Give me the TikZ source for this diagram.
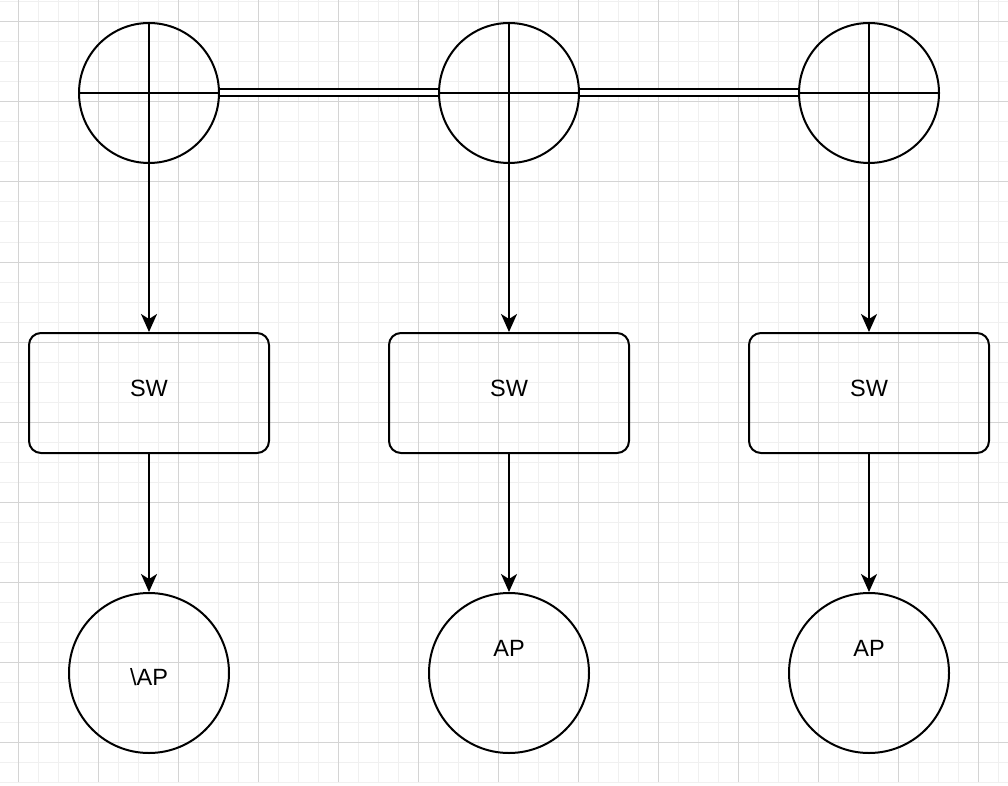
\documentclass[tikz,border=0pt]{standalone}
\usepackage{fontspec}
\setmainfont{Liberation Sans}
\usetikzlibrary{arrows.meta}

\begin{document}
\begin{tikzpicture}[x=1pt,y=-1pt,line width=2pt,
    >={Stealth[length=18pt,width=16pt,inset=5pt]},
    font=\fontsize{23.5}{27}\selectfont]
    \tikzstyle{minor}=[draw=black!6,line width=1pt]
    \tikzstyle{major}=[draw=black!17,line width=1pt]
    \tikzstyle{hub}=[circle,draw,minimum size=140pt,inner sep=0pt]
    \tikzstyle{switch}=[rectangle,draw,rounded corners=12pt,minimum width=240pt,minimum height=120pt]
    \tikzstyle{ap}=[circle,draw,minimum size=160pt,inner sep=0pt]

    \useasboundingbox (0,0) rectangle (1008,786);
    \fill[white] (0,0) rectangle (1008,786);

    % background grid
    \foreach \x in {18,38,...,1008}
    \draw[minor] (\x,0) -- (\x,782);
    \foreach \y in {2,22,...,782}
    \draw[minor] (0,\y) -- (1008,\y);
    \foreach \x in {18,98,...,1008}
    \draw[major] (\x,0) -- (\x,782);
    \foreach \y in {22,102,...,782}
    \draw[major] (0,\y) -- (1008,\y);

    \foreach \i/\x in {1/149,2/509,3/869} {
    \node[hub] (H-\i) at (\x,93) {};
    \draw (H-\i.north) -- (H-\i.south);
    \draw (H-\i.west) -- (H-\i.east);
    \node[switch] (S-\i) at (\x,393) {};
    \node at (\x,388) {SW};
    \node[ap] (A-\i) at (\x,673) {};
    \draw[->] (H-\i) -- (S-\i);
    \draw[->] (S-\i) -- (A-\i);
    }

    \node at (149,677) {\textbackslash AP};
    \node at (509,648) {AP};
    \node at (869,648) {AP};

    \foreach \src/\dst in {1/2,2/3}
    \draw[double,double distance=5pt] (H-\src.east) -- (H-\dst.west);
  \end{tikzpicture}
\end{document}
